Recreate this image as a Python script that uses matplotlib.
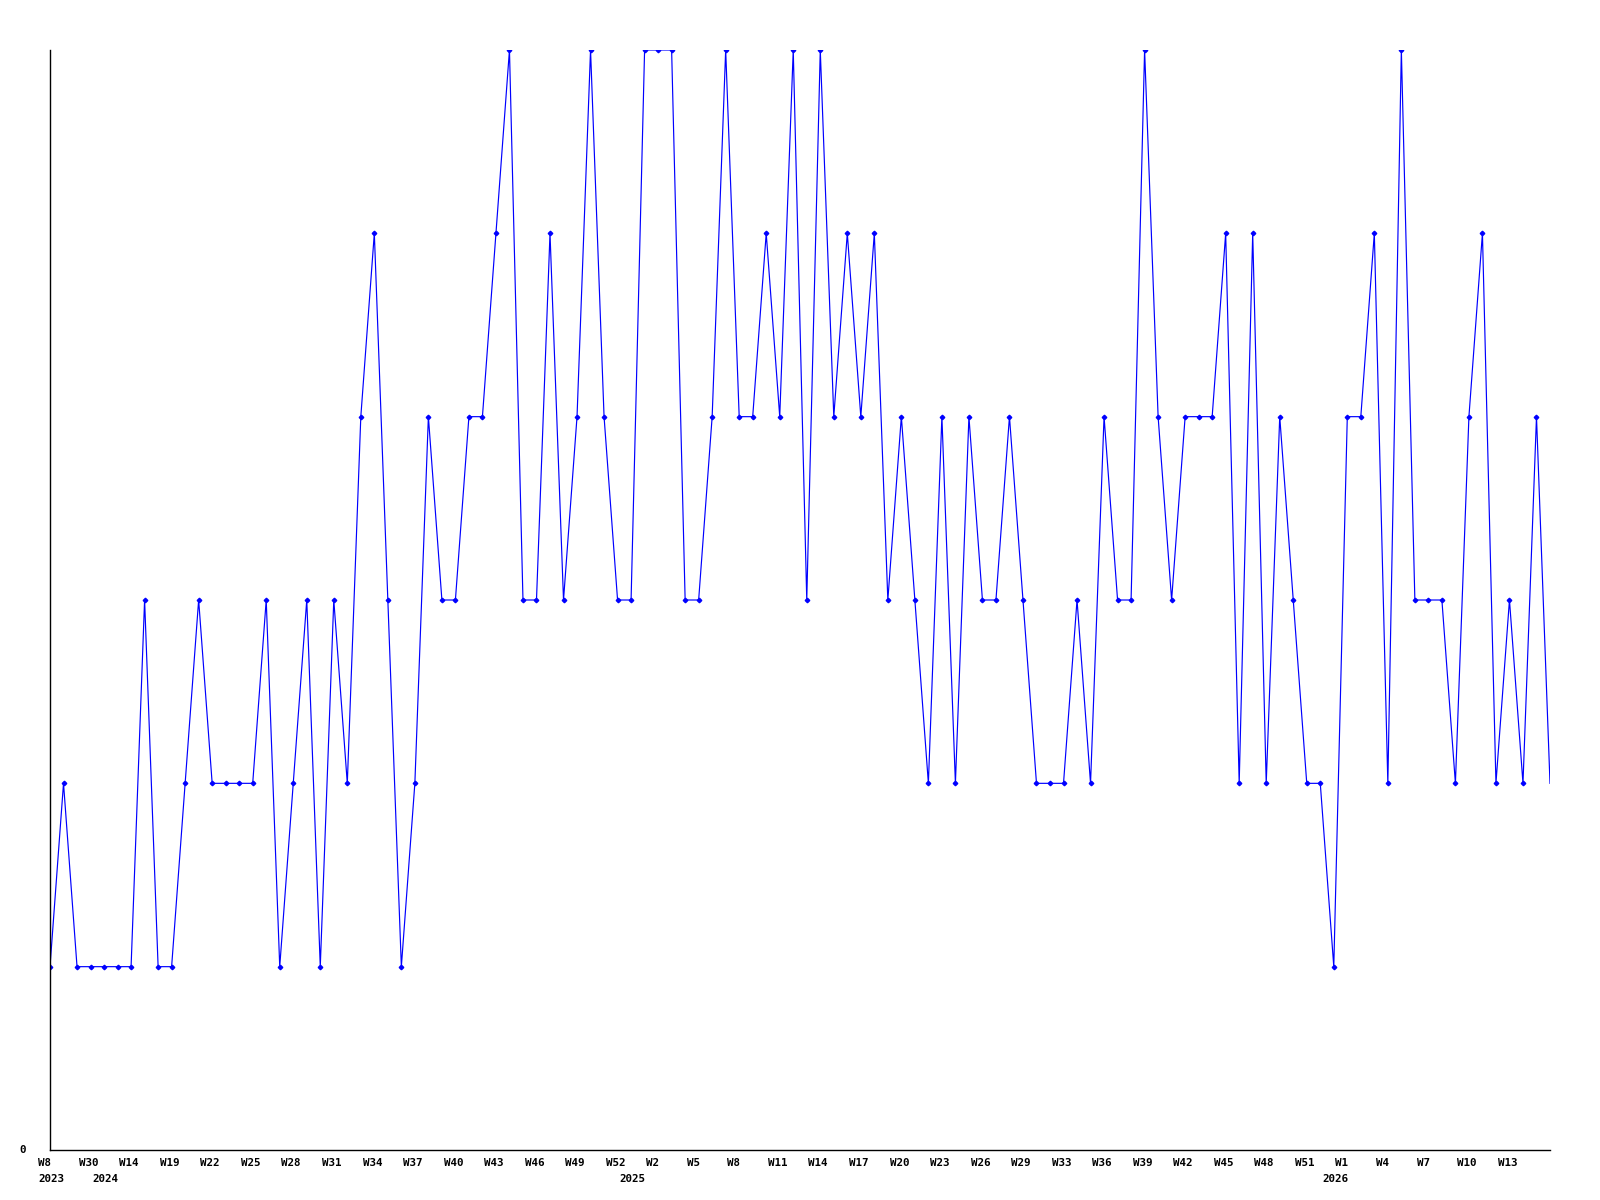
import matplotlib
matplotlib.use("Agg")
import matplotlib.pyplot as plt
import matplotlib.transforms as mtransforms

values = [1, 2, 1, 1, 1, 1, 1, 3, 1, 1, 2, 3, 2, 2, 2, 2, 3, 1, 2, 3,
          1, 3, 2, 4, 5, 3, 1, 2, 4, 3, 3, 4, 4, 5, 6, 3, 3, 5, 3, 4,
          6, 4, 3, 3, 6, 6, 6, 3, 3, 4, 6, 4, 4, 5, 4, 6, 3, 6, 4, 5,
          4, 5, 3, 4, 3, 2, 4, 2, 4, 3, 3, 4, 3, 2, 2, 2, 3, 2, 4, 3,
          3, 6, 4, 3, 4, 4, 4, 5, 2, 5, 2, 4, 3, 2, 2, 1, 4, 4, 5, 2,
          6, 3, 3, 3, 2, 4, 5, 2, 3, 2, 4, 2]

tick_labels = ["W8", "W30", "W14", "W19", "W22", "W25", "W28", "W31", "W34",
               "W37", "W40", "W43", "W46", "W49", "W52", "W2", "W5", "W8",
               "W11", "W14", "W17", "W20", "W23", "W26", "W29", "W33", "W36",
               "W39", "W42", "W45", "W48", "W51", "W1", "W4", "W7", "W10", "W13"]
tick_step = 3

year_labels = ["2023", "2024", "2025", "2026"]
year_positions = [0, 4, 43, 95]

fig = plt.figure(figsize=(16, 12), dpi=100)
ax = fig.add_axes([50/1600, 1 - 1150/1200, 1500/1600, 1100/1200])

x = list(range(len(values)))
ax.plot(x, values, color="#0000ff", linewidth=0.85, marker="D", markersize=2.3,
        markevery=list(range(len(values) - 1)))

ax.set_xlim(0, len(values) - 1)
ax.set_ylim(0, 6)
for s in ["top", "right"]:
    ax.spines[s].set_visible(False)
for s in ["left", "bottom"]:
    ax.spines[s].set_color("black")
    ax.spines[s].set_linewidth(1.0)
ax.set_xticks([])
ax.set_yticks([])

font = dict(family="DejaVu Sans Mono", fontweight="bold", fontsize=7.8, color="black")

trans = mtransforms.blended_transform_factory(ax.transData, ax.transAxes)
offset = mtransforms.ScaledTranslation(-11.8 / 100, 0, fig.dpi_scale_trans)
for i, lab in enumerate(tick_labels):
    ax.text(i * tick_step, -8 / 1100, lab, transform=trans + offset,
            ha="left", va="top", **font)
for pos, lab in zip(year_positions, year_labels):
    ax.text(pos, -23.5 / 1100, lab, transform=trans + offset,
            ha="left", va="top", **font)

fig.text(22.5 / 1600, 1 - 1150 / 1200, "0", ha="center", va="center", **font)

fig.savefig("out.png", dpi=100, facecolor="white")
